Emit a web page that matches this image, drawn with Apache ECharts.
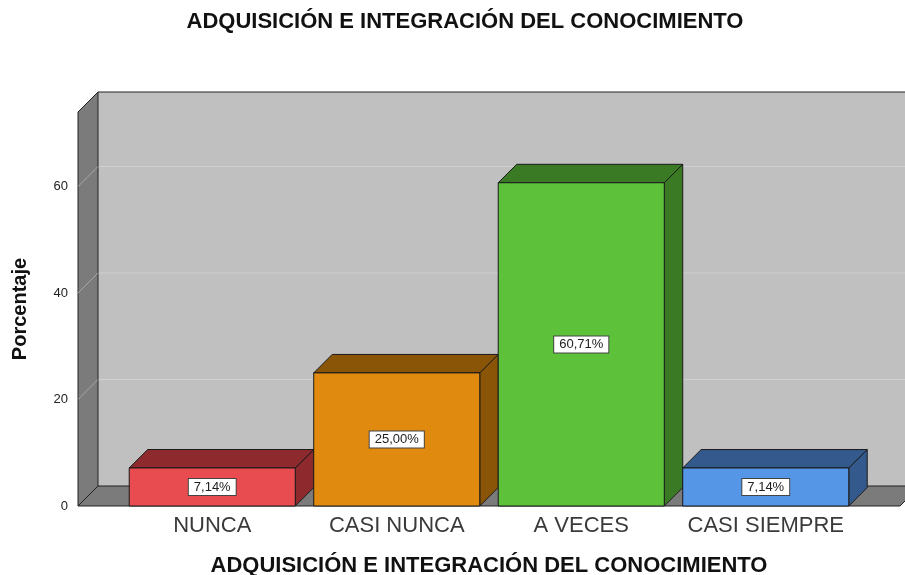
<!DOCTYPE html>
<html>
<head>
<meta charset="utf-8">
<script src="https://cdn.jsdelivr.net/npm/echarts@6/dist/echarts.min.js"></script>
<style>
  html, body { margin: 0; padding: 0; background: #fff; }
  #chart { width: 905px; height: 575px; }
</style>
</head>
<body>
<div id="chart"></div>
<script>
// datos
const categories = ['NUNCA', 'CASI NUNCA', 'A VECES', 'CASI SIEMPRE']
const percentages = [7.14, 25.00, 60.71, 7.14]
const yTicks = [0, 20, 40, 60]

const frontColors = ['#e84b50', '#e08a10', '#5dc23a', '#5597e6']
const sideColors = ['#8e2a2d', '#8b5508', '#3b7a24', '#33598d']

const titleText = 'ADQUISICIÓN E INTEGRACIÓN DEL CONOCIMIENTO'
const FONT = '"Liberation Sans", Arial, sans-serif'
const WALL_DEPTH = 20
const Y_MAX = 74

const chart = echarts.init(document.getElementById('chart'))

function fmt(v) {
  return v.toFixed(2).replace('.', ',') + '%'
}

// paredes (fondo, lateral, suelo) + lineas de la cuadricula
function renderWalls(params, api) {
  const d = WALL_DEPTH
  const fl = api.coord([0, 0])
  const fr = api.coord([1, 0])
  const tl = api.coord([0, Y_MAX])
  const tr = api.coord([1, Y_MAX])
  const sh = p => [p[0] + d, p[1] - d]
  const children = []
  children.push({
    type: 'polygon',
    shape: { points: [sh(fl), sh(fr), sh(tr), sh(tl)] },
    style: { fill: '#c0c0c0' }
  })
  children.push({
    type: 'polyline',
    shape: { points: [sh(tl), sh(tr)] },
    style: { stroke: '#222', lineWidth: 1, fill: null }
  })
  yTicks.forEach(t => {
    if (t === 0) return
    const p = api.coord([0, t])
    const q = api.coord([1, t])
    children.push({
      type: 'line',
      shape: { x1: sh(p)[0], y1: sh(p)[1], x2: sh(q)[0], y2: sh(q)[1] },
      style: { stroke: '#d0d0d0', lineWidth: 1 }
    })
  })
  // pared izquierda
  children.push({
    type: 'polygon',
    shape: { points: [fl, sh(fl), sh(tl), tl] },
    style: { fill: '#7b7b7b', stroke: '#222', lineWidth: 1 }
  })
  yTicks.forEach(t => {
    if (t === 0) return
    const p = api.coord([0, t])
    children.push({
      type: 'line',
      shape: { x1: p[0], y1: p[1], x2: sh(p)[0], y2: sh(p)[1] },
      style: { stroke: '#a8a8a8', lineWidth: 1 }
    })
  })
  // suelo
  children.push({
    type: 'polygon',
    shape: { points: [fl, fr, sh(fr), sh(fl)] },
    style: { fill: '#7b7b7b', stroke: '#222', lineWidth: 1 }
  })
  return { type: 'group', children: children }
}

// barras 3D
function renderBar(params, api) {
  const i = api.value(0)
  const v = api.value(1)
  const base = api.coord([i, 0])
  const top = api.coord([i, v])
  const band = api.size([1, 0])[0]
  const w = band * 0.9
  const d = band - w
  const x0 = base[0] - w / 2
  const x1 = base[0] + w / 2
  const y0 = base[1]
  const y1 = top[1]
  const edge = { stroke: '#1a1a1a', lineWidth: 1 }
  return {
    type: 'group',
    children: [
      {
        type: 'polygon',
        shape: { points: [[x1, y0], [x1 + d, y0 - d], [x1 + d, y1 - d], [x1, y1]] },
        style: Object.assign({ fill: sideColors[i] }, edge)
      },
      {
        type: 'polygon',
        shape: { points: [[x0, y1], [x0 + d, y1 - d], [x1 + d, y1 - d], [x1, y1]] },
        style: Object.assign({ fill: sideColors[i] }, edge)
      },
      {
        type: 'rect',
        shape: { x: x0, y: y1, width: w, height: y0 - y1 },
        style: Object.assign({ fill: frontColors[i] }, edge)
      },
      {
        type: 'text',
        x: base[0],
        y: (y0 + y1) / 2,
        style: {
          text: fmt(v),
          font: '13px ' + FONT,
          fill: '#222',
          align: 'center',
          verticalAlign: 'middle',
          backgroundColor: '#fff',
          borderColor: '#444',
          borderWidth: 1,
          padding: [2, 5, 1, 5]
        }
      }
    ]
  }
}

const option = {
  animation: false,
  backgroundColor: '#fff',
  textStyle: { fontFamily: FONT },
  graphic: [
    {
      type: 'text',
      x: 465,
      y: 22,
      style: {
        text: titleText,
        font: 'bold 22px ' + FONT,
        fill: '#111',
        align: 'center',
        verticalAlign: 'middle'
      }
    }
  ],
  grid: [
    { left: 78, top: 112, width: 822, height: 394, containLabel: false, outerBoundsMode: 'none' },
    { left: 120, top: 112, width: 738, height: 394, containLabel: false, outerBoundsMode: 'none' }
  ],
  xAxis: [
    { gridIndex: 0, type: 'value', min: 0, max: 1, show: false },
    {
      gridIndex: 1,
      type: 'category',
      data: categories,
      axisLine: { show: false },
      axisTick: { show: false },
      axisLabel: { fontSize: 22, color: '#3a3a3a', margin: 9, interval: 0 },
      name: titleText,
      nameLocation: 'middle',
      nameGap: 49,
      nameTextStyle: { fontSize: 22, fontWeight: 'bold', color: '#111' }
    }
  ],
  yAxis: [
    {
      gridIndex: 0,
      type: 'value',
      min: 0,
      max: Y_MAX,
      interval: 20,
      axisLine: { show: false },
      axisTick: { show: false },
      splitLine: { show: false },
      axisLabel: { fontSize: 13, color: '#222', margin: 10, showMaxLabel: false },
      name: 'Porcentaje',
      nameLocation: 'middle',
      nameGap: 48,
      nameTextStyle: { fontSize: 20, fontWeight: 'bold', color: '#111' }
    },
    { gridIndex: 1, type: 'value', min: 0, max: Y_MAX, show: false }
  ],
  series: [
    {
      type: 'custom',
      xAxisIndex: 0,
      yAxisIndex: 0,
      renderItem: renderWalls,
      data: [[0, 0]],
      silent: true,
      z: 1
    },
    {
      type: 'custom',
      xAxisIndex: 1,
      yAxisIndex: 1,
      renderItem: renderBar,
      data: percentages.map((v, i) => [i, v]),
      z: 2
    }
  ]
}

chart.setOption(option)
</script>
</body>
</html>
